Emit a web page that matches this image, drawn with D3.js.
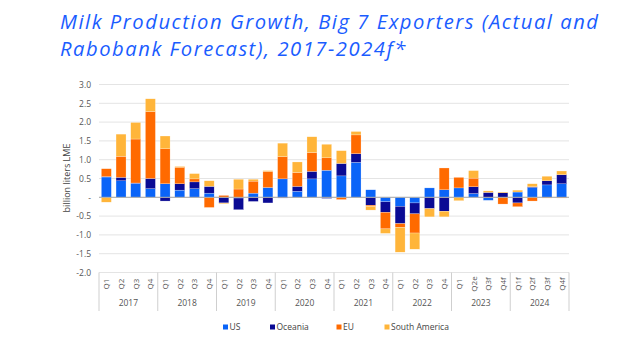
<!DOCTYPE html>
<html><head><meta charset="utf-8">
<script src="https://cdn.jsdelivr.net/npm/d3@7"></script>
<style>
html,body{margin:0;padding:0;background:#fff;}
svg{display:block;font-family:"Open Sans",sans-serif;}
</style></head>
<body><svg id="c" width="618" height="338"></svg>
<script>
const years = ["2017","2018","2019","2020","2021","2022","2023","2024"];
const quarterLabels = [
  "Q1","Q2","Q3","Q4", "Q1","Q2","Q3","Q4", "Q1","Q2","Q3","Q4", "Q1","Q2","Q3","Q4",
  "Q1","Q2","Q3","Q4", "Q1","Q2","Q3","Q4", "Q1","Q2e","Q3f","Q4f", "Q1f","Q2f","Q3f","Q4f"];
const seriesNames = ["US","Oceania","EU","South America"];
const us      = [0.54,0.44,0.37,0.23, 0.36,0.19,0.23,0.11, 0.00,-0.02,0.11,0.26, 0.49,0.16,0.49,0.72, 0.57,0.93,0.20,-0.12, -0.24,-0.15,0.25,0.20, 0.25,0.10,-0.08,0.00, 0.14,0.26,0.33,0.36];
const oceania = [0.01,0.09,0.01,0.27, -0.10,0.17,0.18,0.18, -0.15,-0.31,-0.11,-0.15, -0.02,0.13,0.20,-0.03, 0.33,0.23,-0.21,-0.28, -0.46,-0.29,-0.30,-0.37, 0.00,0.18,0.13,0.12, -0.15,0.02,0.11,0.24];
const eu      = [0.21,0.56,1.17,1.78, 0.93,0.44,0.08,-0.27, 0.05,0.22,0.32,0.43, 0.59,0.37,0.50,0.33, -0.06,0.50,-0.03,-0.44, -0.10,-0.51,0.00,0.58, 0.28,0.23,0.00,-0.18, -0.10,-0.10,-0.02,-0.02];
const southAmerica = [-0.13,0.59,0.44,0.34, 0.34,0.02,0.14,0.15, -0.02,0.26,0.05,0.02, 0.36,0.28,0.42,0.36, 0.34,0.09,-0.10,-0.12, -0.66,-0.43,-0.22,-0.15, -0.09,0.20,0.04,0.02, 0.05,0.08,0.12,0.10];
const yTicks = [3.0,2.5,2.0,1.5,1.0,0.5,0,-0.5,-1.0,-1.5,-2.0];
const colors = {"US":"#0a64f8","Oceania":"#0a0a94","EU":"#ff6a00","South America":"#ffb53a"};

const svg = d3.select("#c");
const table = quarterLabels.map((q,i)=>({key:i, q, "US":us[i], "Oceania":oceania[i], "EU":eu[i], "South America":southAmerica[i]}));

const x = d3.scaleBand().domain(table.map(d=>d.key)).range([99,569]).paddingInner(0.32).paddingOuter(0.16);
const y = d3.scaleLinear().domain([-2,3]).range([272.5,84.5]);

// title
const title = svg.append("g").attr("fill","#1a5cff").attr("font-style","italic")
  .attr("font-family","'Open Sans',sans-serif").attr("font-size",20.2);
const t1 = title.append("text").attr("x",60).attr("y",28.5)
  .text("Milk Production Growth, Big 7 Exporters (Actual and");
const n1 = t1.text().length;
const w1 = t1.node().getComputedTextLength();
const ls = (538 - w1)/(n1-1);
t1.attr("letter-spacing",ls);
title.append("text").attr("x",60).attr("y",55.5).attr("letter-spacing",ls)
  .text("Rabobank Forecast), 2017-2024f*");

// gridlines
svg.append("g").selectAll("line").data(yTicks).join("line")
  .attr("x1",99).attr("x2",569).attr("y1",d=>y(d)).attr("y2",d=>y(d))
  .attr("stroke","#e4e4e4").attr("stroke-width",1);

// y axis labels
const yAxis = d3.axisLeft(y).tickValues(yTicks).tickSize(0).tickPadding(0)
  .tickFormat(d=> d===0 ? "-" : (d<0?"-":"") + Math.abs(d).toFixed(1));
const ya = svg.append("g").attr("transform","translate(91,0)").call(yAxis);
ya.select(".domain").remove();
ya.selectAll("text").attr("font-size",8.5).attr("fill","#555").attr("font-family","'Open Sans',sans-serif");

svg.append("text").attr("transform","translate(70,178) rotate(-90)")
  .attr("text-anchor","middle").attr("font-size",9).attr("fill","#444")
  .text("billion liters LME");

// bars
const stack = d3.stack().keys(seriesNames).offset(d3.stackOffsetDiverging);
const layers = stack(table);
svg.append("g").selectAll("g").data(layers).join("g")
  .attr("fill",d=>colors[d.key])
  .selectAll("rect").data(d=>d).join("rect")
  .attr("x",d=>x(d.data.key)).attr("width",x.bandwidth())
  .attr("y",d=>y(Math.max(d[0],d[1])))
  .attr("height",d=>Math.abs(y(d[0])-y(d[1])))
  .attr("stroke","#ffffff").attr("stroke-width",0.4).attr("stroke-opacity",0.6);

// zero line
svg.append("line").attr("x1",99).attr("x2",569).attr("y1",y(0)).attr("y2",y(0))
  .attr("stroke","#a8a8a8").attr("stroke-width",1);

// x axis: separators, quarter labels, year labels
const off = x.step()*x.paddingOuter();
const bounds = d3.range(years.length+1).map(k=> k<years.length ? x(k*4)-off : x(31)+x.bandwidth()+off);
svg.append("g").selectAll("line").data(bounds).join("line")
  .attr("x1",d=>d).attr("x2",d=>d).attr("y1",272.5).attr("y2",311)
  .attr("stroke","#cfcfcf").attr("stroke-width",1);
svg.append("g").selectAll("text").data(table).join("text")
  .attr("transform",d=>`translate(${x(d.key)+x.bandwidth()/2+3},284) rotate(-90)`)
  .attr("text-anchor","middle").attr("font-size",8).attr("fill","#555")
  .text(d=>d.q);
svg.append("g").selectAll("text").data(years).join("text")
  .attr("x",(d,i)=>(bounds[i]+bounds[i+1])/2).attr("y",306)
  .attr("text-anchor","middle").attr("font-size",8.5).attr("fill","#555")
  .text(d=>d);

// legend
const legX = [223,270,336.5,384.5];
const leg = svg.append("g").selectAll("g").data(seriesNames).join("g")
  .attr("transform",(d,i)=>`translate(${legX[i]},327)`);
leg.append("rect").attr("x",0).attr("y",-2.5).attr("width",5).attr("height",5).attr("fill",d=>colors[d]);
leg.append("text").attr("x",6.5).attr("y",3).attr("font-size",8.5).attr("fill","#444").text(d=>d);
</script></body></html>
